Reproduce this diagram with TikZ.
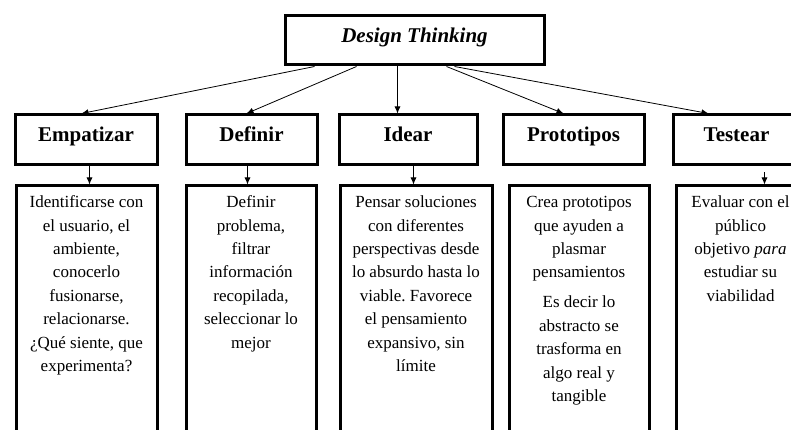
\documentclass[tikz,border=0pt]{standalone}
\usepackage{fontspec}
\setmainfont{Liberation Serif}
\usetikzlibrary{arrows.meta,calc}
\frenchspacing
\begin{document}
\begin{tikzpicture}[x=1pt,y=-1pt,
  box/.style={draw,line width=3pt,inner sep=0pt,anchor=north west},
  head/.style={box,font=\fontsize{21}{25}\selectfont\bfseries,text height=14pt,text depth=11pt},
  bodytext/.style={align=center,anchor=north,inner sep=0pt,font=\fontsize{17}{23.4}\selectfont\frenchspacing},
  arr/.style={-{Latex[length=7pt,width=6pt]},line width=0.8pt}]
\path[clip] (0,0) rectangle (791,430);
\fill[white] (0,0) rectangle (791,430);

% title
\node[box,minimum width=259pt,minimum height=49pt,font=\fontsize{21}{25}\selectfont\bfseries\itshape,text height=14pt,text depth=10pt] (top) at (283.5,14.5) {Design Thinking};

% headers
\node[head,minimum width=142pt,minimum height=50pt] (emp) at (13.5,113.5) {Empatizar};
\node[head,minimum width=131pt,minimum height=50pt] (def) at (184.5,113.5) {Definir};
\node[head,minimum width=138pt,minimum height=50pt] (ide) at (337.5,113.5) {Idear};
\node[head,minimum width=141pt,minimum height=50pt] (pro) at (501.5,113.5) {Prototipos};
\node[head,minimum width=127pt,minimum height=50pt] (tes) at (671.5,113.5) {Testear};

% bodies
\node[box,minimum width=141pt,minimum height=300pt] (b1) at (14.5,184.5) {};
\node[box,minimum width=130pt,minimum height=300pt] (b2) at (184.5,184.5) {};
\node[box,minimum width=152pt,minimum height=300pt] (b3) at (338.5,184.5) {};
\node[box,minimum width=140pt,minimum height=300pt] (b4) at (507.5,184.5) {};
\node[box,minimum width=135pt,minimum height=300pt] (b5) at (674.5,184.5) {};

\node[bodytext] (t1) at ($(b1.north)+(0,6.6)$) {\strut Identificarse con\\el usuario, el\\ambiente,\\conocerlo\\fusionarse,\\relacionarse.\\¿Qué siente, que\\experimenta?};
\node[bodytext] (t2) at ($(b2.north)+(0,6.6)$) {\strut Definir\\problema,\\filtrar\\información\\recopilada,\\seleccionar lo\\mejor};
\node[bodytext] (t3) at ($(b3.north)+(0,6.6)$) {\strut Pensar soluciones\\con diferentes\\perspectivas desde\\lo absurdo hasta lo\\viable. Favorece\\el pensamiento\\expansivo, sin\\límite};
\node[bodytext] (t4) at ($(b4.north)+(0,6.6)$) {\strut Crea prototipos\\que ayuden a\\plasmar\\pensamientos\\[6.6pt]Es decir lo\\abstracto se\\trasforma en\\algo real y\\tangible};
\node[bodytext] (t5) at ($(b5.north)+(-3,6.6)$) {\strut Evaluar con el\\público\\objetivo \textit{para}\\estudiar su\\viabilidad};

% arrows from title
\draw[arr] ($(top.south)+(-100,0)$) -- ($(emp.north)+(-4.5,0)$);
\draw[arr] ($(top.south)+(-58,0)$) -- ($(def.north)+(-5,0)$);
\draw[arr] ($(top.south)+(-17,0)$) -- ($(ide.north)+(-10.5,0)$);
\draw[arr] ($(top.south)+(32,0)$) -- ($(pro.north)+(-10,0)$);
\draw[arr] ($(top.south)+(40,0)$) -- ($(tes.north)+(-28,0)$);

% arrows header to body
\draw[arr] ($(emp.south)+(3.5,0)$) -- ($(b1.north)+(3,0)$);
\draw[arr] ($(def.south)+(-4,0)$) -- ($(b2.north)+(-3.5,0)$);
\draw[arr] ($(ide.south)+(5.5,0)$) -- ($(b3.north)+(-2.5,0)$);
\draw[arr] ($(tes.south)+(28,6)$) -- ($(b5.north)+(21,0)$);
\end{tikzpicture}
\end{document}
